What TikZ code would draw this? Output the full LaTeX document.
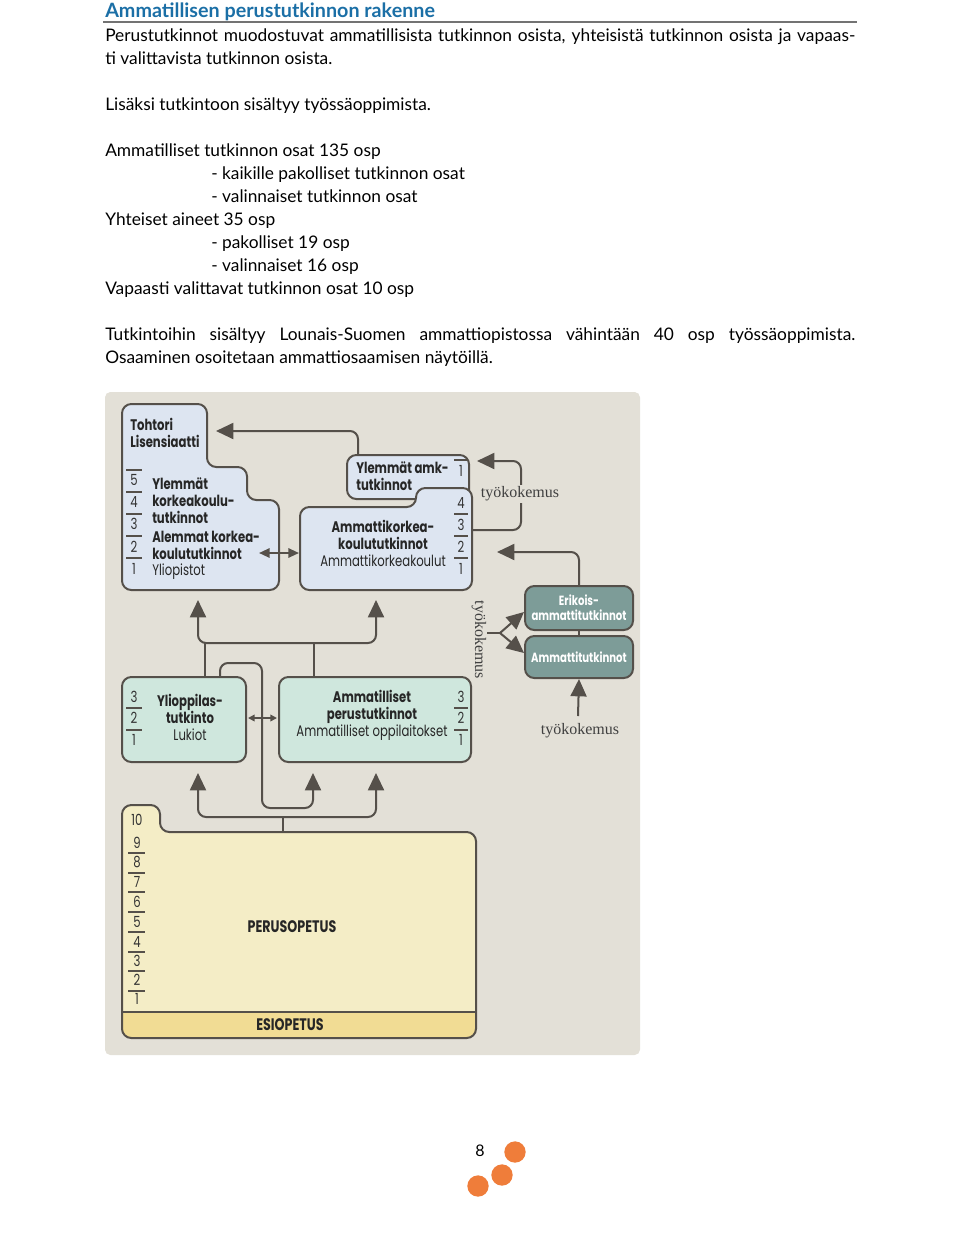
\documentclass[tikz,border=0pt]{standalone}
\usepackage{fontspec}
\setmainfont{Lato}
\newfontfamily\diafont[FakeStretch=0.76]{Poppins}
\newfontfamily\serfont{Liberation Serif}
\usetikzlibrary{arrows.meta}
\tikzset{>={Triangle[length=13pt,width=12pt]}}
\definecolor{titleblue}{HTML}{1B6FA6}
\definecolor{panelbg}{HTML}{E3E0D7}
\definecolor{edgegray}{HTML}{55504A}
\definecolor{unifill}{HTML}{DDE5F1}
\definecolor{lukiofill}{HTML}{CFE7DD}
\definecolor{tealfill}{HTML}{7D9C98}
\definecolor{perusfill}{HTML}{F4EDC6}
\definecolor{esifill}{HTML}{F1DC94}
\definecolor{dotorange}{HTML}{EF7D3A}
\colorlet{rulegray}{black!55}

\begin{document}
\begin{tikzpicture}[x=0.75pt,y=-0.75pt,
    bodytext/.style={anchor=base west,inner sep=0pt,font=\fontsize{13}{15}\selectfont},
    box/.style={draw=edgegray,line width=1.5pt,rounded corners=7pt},
    conn/.style={draw=edgegray,line width=1.5pt,rounded corners=6pt},
    boxtext/.style={font=\diafont\bfseries\fontsize{11.5}{12.8}\selectfont,text=black!85,inner sep=0pt},
    gradenum/.style={font=\diafont\fontsize{11.5}{12}\selectfont,text=black!80,inner sep=0pt},
    graderule/.style={draw=edgegray,line width=0.8pt},
    tealbox/.style={draw=edgegray,line width=1.5pt,rounded corners=7pt,fill=tealfill,text=white,
        font=\diafont\bfseries\fontsize{10}{11}\selectfont,align=center,inner sep=0pt},
    workexp/.style={font=\serfont\fontsize{12}{13}\selectfont,text=black!75,inner sep=1pt},
    smallarr/.style={conn,{Triangle[length=8pt,width=7pt]}-{Triangle[length=8pt,width=7pt]}},
    tinyarr/.style={conn,line width=1.1pt,{Triangle[length=5pt,width=5pt]}-{Triangle[length=5pt,width=5pt]}}
  ]
  \useasboundingbox (0,0) rectangle (960,1239);

  % TEXT
  \node[anchor=base west,inner sep=0pt,font=\bfseries\fontsize{14.8}{17}\selectfont,text=titleblue]
    (title) at (105,17) {Ammatillisen perustutkinnon rakenne};
  \draw[rulegray,line width=0.8pt] (103,22) -- (857,22);
  \node[bodytext] (intro1) at (105,41) {\makebox[562.5pt][s]{Perustutkinnot muodostuvat ammatillisista tutkinnon osista, yhteisistä tutkinnon osista ja vapaas-}};
  \node[bodytext] (intro2) at (105,64) {ti valittavista tutkinnon osista.};
  \node[bodytext] (lisaksi) at (105,110) {Lisäksi tutkintoon sisältyy työssäoppimista.};
  \node[bodytext] (ammosat) at (105,156) {Ammatilliset tutkinnon osat 135 osp};
  \node[bodytext] (kaikille) at (211,179) {- kaikille pakolliset tutkinnon osat};
  \node[bodytext] (valinn1) at (211,202) {- valinnaiset tutkinnon osat};
  \node[bodytext] (yhteiset) at (105,225) {Yhteiset aineet 35 osp};
  \node[bodytext] (pakoll) at (211,248) {- pakolliset 19 osp};
  \node[bodytext] (valinn2) at (211,271) {- valinnaiset 16 osp};
  \node[bodytext] (vapaasti) at (105,294) {Vapaasti valittavat tutkinnon osat 10 osp};
  \node[bodytext] (outro1) at (105,340) {\makebox[562.5pt][s]{Tutkintoihin sisältyy Lounais-Suomen ammattiopistossa vähintään 40 osp työssäoppimista.}};
  \node[bodytext] (outro2) at (105,363) {Osaaminen osoitetaan ammattiosaamisen näytöillä.};

  % PANEL
  \fill[panelbg,rounded corners=4pt] (105,392) rectangle (640,1055);

  % COORDINATES
  \coordinate (amkTop) at (358,455);
  \coordinate (tohtoriIn) at (216,431);
  \coordinate (uniR) at (259,553);
  \coordinate (amkL) at (299,553);
  \coordinate (amkR) at (472,530);
  \coordinate (amkylIn) at (477,461);
  \coordinate (amkIn) at (497,552);
  \coordinate (lukioTop) at (205,677);
  \coordinate (lukioTop2) at (220,677);
  \coordinate (ammTop) at (314,677);
  \coordinate (uniIn) at (198,600);
  \coordinate (amkIn2) at (376,600);
  \coordinate (lukioIn) at (198,773);
  \coordinate (ammIn) at (313,773);
  \coordinate (ammIn2) at (376,773);
  \coordinate (lukioR) at (248,718);
  \coordinate (ammL) at (277,718);
  \coordinate (perusTop) at (283,832);
  \coordinate (fork) at (500,633);
  \coordinate (forkStub) at (487,633);

  % UNIVERSITY
  \draw[box,fill=unifill] (122,404) -- (207,404) -- (207,467) -- (247,467) -- (247,500)
    -- (279,500) -- (279,590) -- (122,590) -- cycle;
  \node[boxtext,anchor=west,align=left] (tohtori) at (130,433) {Tohtori\\Lisensiaatti};
  \node[boxtext,anchor=west,align=left] (ylemmat) at (152,501) {Ylemmät\\korkeakoulu-\\tutkinnot};
  \node[boxtext,anchor=west,align=left] (alemmat) at (152,545) {Alemmat korkea-\\koulututkinnot};
  \node[boxtext,anchor=west,font=\diafont\fontsize{11.5}{12.8}\selectfont] (yliopistot) at (152,572) {Yliopistot};
  \foreach \n/\y in {5/480,4/502,3/524,2/547,1/569}
    \node[gradenum] (uni\n) at (134,\y) {\n};
  \foreach \y in {470,492,514,536,558}
    \draw[graderule] (126,\y) -- (142,\y);

  % AMK
  \draw[box,fill=unifill] (347,455) rectangle (469,499);
  \draw[box,fill=unifill] (300,507) -- (416,507) -- (416,488) -- (472,488) -- (472,590)
    -- (300,590) -- cycle;
  \node[boxtext,anchor=west,align=left] (amkylempi) at (356,476) {Ylemmät amk-\\tutkinnot};
  \node[boxtext,align=center] (amk) at (383,543)
    {Ammattikorkea-\\koulututkinnot\\{\mdseries Ammattikorkeakoulut}};
  \node[gradenum] (amkyl1) at (461,471) {1};
  \draw[graderule] (454,460) -- (468,460);
  \foreach \n/\y in {4/503,3/525,2/547,1/569}
    \node[gradenum] (amk\n) at (461,\y) {\n};
  \foreach \y in {514,536,558}
    \draw[graderule] (454,\y) -- (468,\y);

  % LUKIO AND AMMATILLISET
  \draw[box,fill=lukiofill] (122,677) rectangle (246,762);
  \node[boxtext,align=center] (lukio) at (190,717) {Ylioppilas-\\tutkinto\\{\mdseries Lukiot}};
  \draw[box,fill=lukiofill] (279,677) rectangle (471,762);
  \node[boxtext,align=center] (amm) at (372,715)
    {Ammatilliset\\perustutkinnot\\{\mdseries Ammatilliset oppilaitokset}};
  \foreach \n/\y in {3/697,2/718,1/740} {
    \node[gradenum] (lukio\n) at (134,\y) {\n};
    \node[gradenum] (amm\n) at (461,\y) {\n};
  }
  \foreach \y in {708,730} {
    \draw[graderule] (126,\y) -- (142,\y);
    \draw[graderule] (454,\y) -- (468,\y);
  }

  % AMMATTITUTKINNOT
  \node[tealbox,minimum width=81pt,minimum height=33pt] (erikois) at (579,608)
    {Erikois-\\ammattitutkinnot};
  \node[tealbox,minimum width=81pt,minimum height=31.5pt] (ammatti) at (579,657) {Ammattitutkinnot};

  % PERUSOPETUS
  \def\perus{(122,1038) -- (122,805) -- (160,805) -- (160,832) -- (476,832) -- (476,1038) -- cycle}
  \fill[perusfill,rounded corners=7pt] \perus;
  \begin{scope}
    \clip[rounded corners=7pt] \perus;
    \fill[esifill] (120,1012) rectangle (478,1040);
  \end{scope}
  \draw[box] \perus;
  \draw[edgegray,line width=1.5pt] (122,1012) -- (476,1012);
  \node[gradenum] (perus10) at (137,820) {10};
  \foreach \n/\y in {9/843,8/862,7/882,6/902,5/922,4/942,3/961,2/980,1/999}
    \node[gradenum] (perus\n) at (137,\y) {\n};
  \foreach \y in {853,873,892,912,932,952,971,991}
    \draw[graderule] (128,\y) -- (145,\y);
  \node[boxtext,font=\diafont\bfseries\fontsize{12.5}{14}\selectfont] (perus) at (292,927) {PERUSOPETUS};
  \node[boxtext,font=\diafont\bfseries\fontsize{12.5}{14}\selectfont] (esi) at (290,1025) {ESIOPETUS};

  % CONNECTORS
  \draw[conn,->] (amkTop) |- (tohtoriIn);
  \draw[smallarr] (uniR) -- (amkL);
  \draw[tinyarr] (lukioR) -- (ammL);
  \draw[conn,->] (amkR) -| (521,461) -- (amkylIn);
  \draw[conn,->] (erikois.north) |- (amkIn);
  \draw[conn] (erikois.south) -- (ammatti.north);
  \draw[conn,<->] (uniIn) |- (314,643) -| (amkIn2);
  \draw[conn] (lukioTop) -- (205,643);
  \draw[conn] (ammTop) -- (314,643);
  \draw[conn,->] (lukioTop2) |- (262,663) |- (313,808) -- (ammIn);
  \draw[conn,<->] (lukioIn) |- (283,817) -| (ammIn2);
  \draw[conn] (perusTop) -- (283,817);
  \draw[conn] (forkStub) -- (fork);
  \draw[conn,->] (fork) -- (erikois.west |- 0,612);
  \draw[conn,->] (fork) -- (ammatti.west |- 0,653);
  \draw[conn,->] (578,716) -- (ammatti.south);

  % LABELS
  \node[workexp,fill=panelbg] (tyo1) at (520,494) {työkokemus};
  \node[workexp,rotate=-90] (tyo2) at (479,640) {työkokemus};
  \node[workexp] (tyo3) at (580,731) {työkokemus};

  % PAGE
  \node[font=\fontsize{12}{14}\selectfont] (pagenum) at (480,1151) {8};
  \fill[dotorange] (515,1152) circle (8pt);
  \fill[dotorange] (502,1175) circle (8pt);
  \fill[dotorange] (478,1186) circle (8pt);
\end{tikzpicture}
\end{document}
